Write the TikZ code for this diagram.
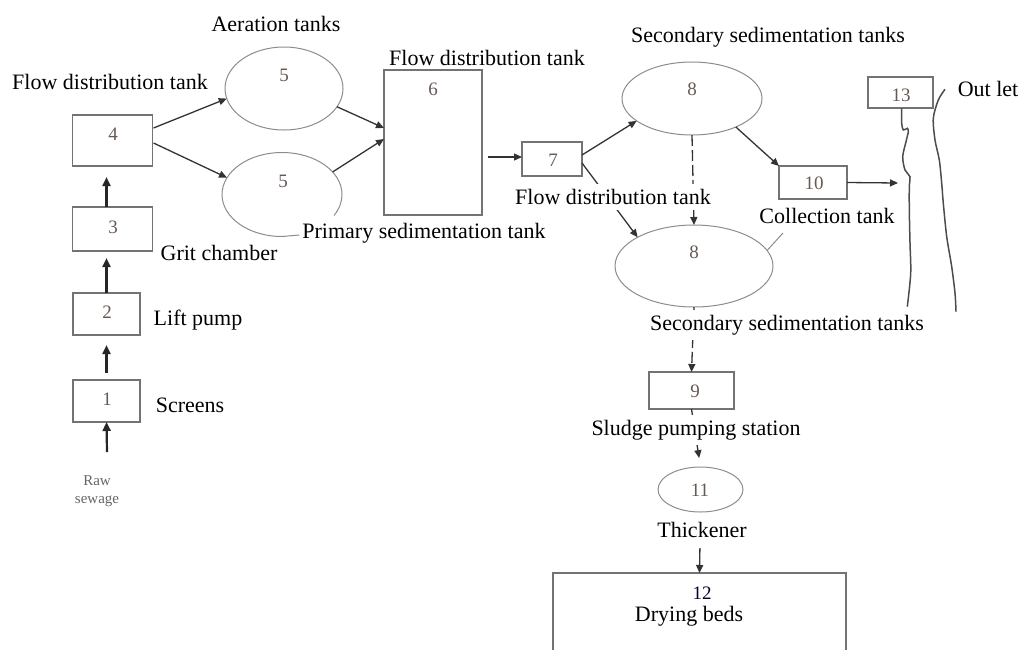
\documentclass[tikz,border=0pt]{standalone}
\usepackage{fontspec}
\setmainfont{Liberation Serif}
\usetikzlibrary{arrows.meta,shapes.geometric,calc}
\definecolor{boxcol}{gray}{0.45}
\definecolor{ellcol}{gray}{0.55}
\definecolor{arrcol}{gray}{0.2}
\definecolor{numcol}{rgb}{0.40,0.35,0.33}
\begin{document}
\begin{tikzpicture}[x=1pt,y=-1pt,
  every node/.style={inner sep=0pt, outer sep=0pt},
  txt/.style={font=\fontsize{22}{26}\selectfont, text=black},
  num/.style={font=\fontsize{19}{21}\selectfont, text=numcol},
  box/.style={draw=boxcol, line width=1.3pt, rectangle},
  tank/.style={draw=ellcol, line width=1pt, ellipse},
  flow/.style={draw=arrcol, line width=1.3pt, -{Triangle[length=8pt,width=7pt]}},
  upflow/.style={draw=black!85, line width=2.2pt, -{Triangle[length=9pt,width=8pt]}},
  river/.style={draw=gray!60!black, line width=1.5pt},
  cover/.style={fill=white, inner xsep=2pt, inner ysep=5pt}]
\useasboundingbox (0,0) rectangle (1022,649);

% boxes
\node[box, minimum width=67pt, minimum height=42pt] (b1) at (106.5,401) {};
\node[box, minimum width=67pt, minimum height=42pt] (b2) at (106.5,314) {};
\node[box, minimum width=80pt, minimum height=44pt] (b3) at (112.5,229) {};
\node[box, minimum width=80pt, minimum height=51pt] (b4) at (112.5,140.5) {};
\node[box, minimum width=98pt, minimum height=145pt] (b6) at (433,142.5) {};
\node[box, minimum width=60pt, minimum height=34pt] (b7) at (552,159) {};
\node[box, minimum width=68pt, minimum height=33pt] (b10) at (813,182.5) {};
\node[box, minimum width=85pt, minimum height=37pt] (b9) at (691.5,390.5) {};
\node[box, minimum width=65pt, minimum height=31pt] (b13) at (900.5,92.5) {};
\node[minimum width=293pt, minimum height=134pt] (b12) at (699.5,640) {};
\draw[box] (b12.south west) |- (b12.north east) -- (b12.south east);

% tanks
\node[tank, minimum width=118pt, minimum height=83pt] (e5a) at (284,88.5) {};
\node[minimum width=120pt, minimum height=84pt, ellipse] (e5b) at (282,194.5) {};
\draw[draw=ellcol, line width=1pt] (e5b.south) arc[start angle=90, end angle=390, x radius=60, y radius=42];
\node[tank, minimum width=140pt, minimum height=73pt] (e8a) at (692,98.5) {};
\node[tank, minimum width=158pt, minimum height=82pt] (e8b) at (694,266) {};
\node[tank, minimum width=85pt, minimum height=45pt] (e11) at (700.5,489.5) {};

% numbers
\node[num] (n1) at (107,399) {1};
\node[num] (n2) at (107,312) {2};
\node[num] (n3) at (113,227) {3};
\node[num] (n4) at (113,134) {4};
\node[num] (n5a) at (284,75) {5};
\node[num] (n5b) at (283,181) {5};
\node[num] (n6) at (433,89) {6};
\node[num] (n7) at (553,160) {7};
\node[num] (n8a) at (692,89) {8};
\node[num] (n8b) at (694,252) {8};
\node[num] (n9) at (695,391) {9};
\node[num] (n10) at (814,183) {10};
\node[num] (n11) at (700,490) {11};
\node[num, text=black!80!blue] (n12) at (702,593) {12};
\node[num] (n13) at (901,95) {13};

% coordinates
\coordinate (rawtop) at (107,452);
\coordinate (rin) at (898,183);
\coordinate (collead) at (783,233);

% left vertical flow
\draw[upflow] (rawtop) -- (b1.south);
\draw[upflow, shorten <=7pt, shorten >=10pt] (b1.north) -- (b2.south);
\draw[upflow, shorten >=7pt] (b2.north) -- (b2.north |- b3.south);
\draw[upflow, shorten >=11pt] (b3.north -| b2.north) -- (b4.south -| b2.north);

% connectors
\draw[flow] ($(b4.east)+(1,-12.5)$) -- (e5a.190);
\draw[flow] ($(b4.east)+(1,2.5)$) -- (e5b.163);
\draw[flow] (e5a.-19) -- ($(b6.west)+(0,-14.5)$);
\draw[flow] (e5b.24) -- ($(b6.west)+(0,-3.5)$);
\draw[flow] ($(b6.east)+(6,14.5)$) -- ($(b7.west)+(0,-2)$);
\draw[flow] ($(b7.east)+(0,-4)$) -- (e8a.202);
\draw[flow] ($(b7.east)+(0,4)$) -- (e8b.153);
\draw[flow, dash pattern=on 11pt off 4pt] (e8a.south) -- (e8b.north);
\draw[flow] (e8a.-33) -- (b10.north west);
\draw[flow] (b10.east) -- (rin);
\draw[flow, dash pattern=on 11pt off 4pt] (e8b.south) -- (b9.north);
\draw[flow, shorten >=9pt] (b9.south) -- (e11.north);
\draw[flow, shorten <=36pt] (e11.south) -- (b12.north);
\draw[draw=ellcol, line width=1pt] (e8b.12) -- (collead);

% river
\draw[river] plot[smooth] coordinates {(901.7,108.3) (901.7,123.3) (903.3,130) (907.3,128.3) (908.3,131.7) (906,141.7) (902.7,156.7) (905,170) (910,176.7) (909.3,186.7) (909.3,210) (910,243.3) (910.7,273.3) (907.3,306.7)};
\draw[river] plot[smooth] coordinates {(945,89.3) (938.3,100) (933.3,118.3) (935,140) (939.3,160) (941.7,183.3) (943.3,203.3) (946.7,236.7) (951.7,266.7) (955,293.3) (956,311.7)};

% labels
\node[txt] (lfd1) at (110,82) {Flow distribution tank};
\node[txt] (laer) at (276,24) {Aeration tanks};
\node[txt] (lfd2) at (487,58) {Flow distribution tank};
\node[txt] (lss1) at (768,37) {Secondary sedimentation tanks};
\node[txt] (lout) at (988,89) {Out let};
\node[txt] (lgrit) at (219,253) {Grit chamber};
\node[txt] (lprim) at (424,233) {Primary sedimentation tank};
\draw[draw=ellcol, line width=1pt] (e5b.south) -- ($(lprim.west)+(-3,2)$);
\node[txt] (llift) at (198,320) {Lift pump};
\node[txt] (lscr) at (190,405) {Screens};
\node[font=\fontsize{15}{18}\selectfont, text=gray!80!black, align=center] (lraw) at (97,491) {Raw\\sewage};
\node[txt, cover] (lfd3) at (613,197) {Flow distribution tank};
\node[txt] (lcoll) at (827,216) {Collection tank};
\node[txt, cover] (lss2) at (787,325) {Secondary sedimentation tanks};
\node[txt, cover] (lsps) at (696,430) {Sludge pumping station};
\node[txt] (lth) at (702,530) {Thickener};
\node[txt] (ldry) at (689,616) {Drying beds};
\end{tikzpicture}
\end{document}
